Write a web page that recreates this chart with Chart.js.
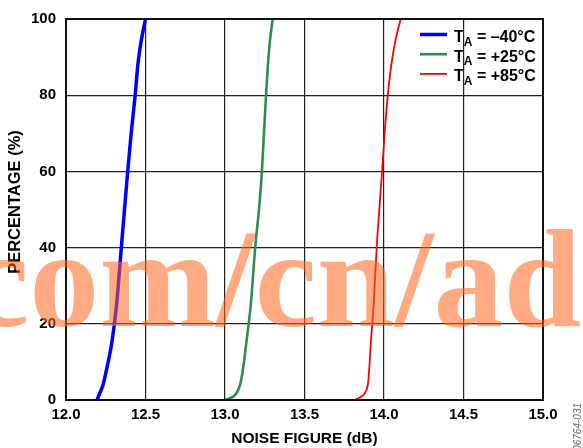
<!DOCTYPE html>
<html>
<head>
<meta charset="utf-8">
<script src="https://cdn.jsdelivr.net/npm/chart.js@4.4.1/dist/chart.umd.min.js"></script>
<style>
  html, body { margin: 0; padding: 0; background: #fff; }
  canvas { display: block; }
</style>
</head>
<body>
<canvas id="nfChart" width="583" height="448"></canvas>
<script>
// cumulative distribution of noise figure, one curve per temperature
const PCT     = [0, 1, 2, 4, 8, 15, 25, 40, 52, 60, 70, 80, 88, 94, 100];
const NF_M40  = [12.196, 12.205, 12.215, 12.233, 12.255, 12.288, 12.318, 12.348, 12.372, 12.388, 12.41, 12.435, 12.452, 12.472, 12.50];
const NF_P25  = [13.0, 13.055, 13.075, 13.095, 13.113, 13.134, 13.162, 13.19, 13.218, 13.232, 13.245, 13.258, 13.27, 13.282, 13.30];
const NF_P85  = [13.818, 13.86, 13.882, 13.898, 13.907, 13.917, 13.935, 13.954, 13.974, 13.988, 14.004, 14.024, 14.046, 14.07, 14.105];

const TEMPS   = ["–40°C", "+25°C", "+85°C"];
const COLORS  = ["#0000ff", "#2e8b57", "#ff0000"];
const WIDTHS  = [3.5, 2.6, 1.8];

const X_MIN = 12.0, X_MAX = 15.0, X_STEP = 0.5;
const Y_MIN = 0, Y_MAX = 100, Y_STEP = 20;

const SANS = '"Liberation Sans", Arial, sans-serif';

const toPoints = (xs) => xs.map((x, i) => ({ x, y: PCT[i] }));

// frame around plot area
const framePlugin = {
    id: "frame",
    afterDatasetsDraw(chart) {
        const { ctx, chartArea: a } = chart;
        ctx.save();
        ctx.strokeStyle = "#111";
        ctx.lineWidth = 2;
        ctx.strokeRect(a.left, a.top, a.right - a.left, a.bottom - a.top);
        ctx.restore();
    }
};

// legend with subscript "A"
const legendPlugin = {
    id: "tempLegend",
    afterDatasetsDraw(chart) {
        const ctx = chart.ctx;
        ctx.save();
        TEMPS.forEach((t, i) => {
            const y = 34.5 + i * 19.7;
            ctx.strokeStyle = COLORS[i];
            ctx.lineWidth = WIDTHS[i];
            ctx.beginPath();
            ctx.moveTo(420, y);
            ctx.lineTo(447, y);
            ctx.stroke();

            ctx.fillStyle = "#000";
            ctx.textBaseline = "alphabetic";
            ctx.textAlign = "left";
            let x = 454;
            ctx.font = "bold 16px " + SANS;
            ctx.fillText("T", x, y + 7.4);
            x += ctx.measureText("T").width;
            ctx.font = "bold 12px " + SANS;
            ctx.fillText("A", x, y + 11);
            x += ctx.measureText("A").width;
            ctx.font = "bold 16px " + SANS;
            ctx.fillText(" = " + t, x, y + 7.4);
        });
        ctx.restore();
    }
};

// y title, overlay text and figure number
const overlayPlugin = {
    id: "overlay",
    afterDraw(chart) {
        const ctx = chart.ctx;
        ctx.save();
        ctx.translate(15, 202);
        ctx.rotate(-Math.PI / 2);
        ctx.font = "bold 16.5px " + SANS;
        ctx.fillStyle = "#000";
        ctx.textAlign = "center";
        ctx.textBaseline = "middle";
        ctx.fillText("PERCENTAGE (%)", 0, 0);
        ctx.restore();

        ctx.save();
        ctx.font = 'bold 140px "Liberation Serif", "Times New Roman", serif';
        ctx.fillStyle = "rgba(255, 100, 30, 0.55)";
        ctx.textAlign = "left";
        ctx.textBaseline = "alphabetic";
        ctx.fillText("com/cn/ad", -33, 326);
        ctx.restore();

        ctx.save();
        ctx.translate(578, 403);
        ctx.rotate(-Math.PI / 2);
        ctx.font = "italic 10px " + SANS;
        ctx.fillStyle = "#666";
        ctx.textAlign = "right";
        ctx.textBaseline = "middle";
        ctx.fillText("06764-031", 0, 0);
        ctx.restore();
    }
};

const lineSet = (xs, i) => ({
    label: "TA = " + TEMPS[i],
    data: toPoints(xs),
    showLine: true,
    borderColor: COLORS[i],
    borderWidth: WIDTHS[i],
    pointRadius: 0,
    fill: false,
    cubicInterpolationMode: "monotone"
});

new Chart(document.getElementById("nfChart"), {
    type: "scatter",
    data: {
        datasets: [lineSet(NF_M40, 0), lineSet(NF_P25, 1), lineSet(NF_P85, 2)]
    },
    options: {
        responsive: false,
        animation: false,
        layout: { padding: { top: 18, right: 40, left: 0, bottom: 0 } },
        plugins: { legend: { display: false }, tooltip: { enabled: false } },
        scales: {
            x: {
                type: "linear",
                min: X_MIN, max: X_MAX,
                ticks: {
                    stepSize: X_STEP,
                    color: "#000",
                    padding: 6,
                    font: { family: SANS, size: 15, weight: "bold" },
                    callback: (v) => v.toFixed(1)
                },
                grid: { color: "#222", lineWidth: 1.2, drawTicks: false },
                border: { display: false },
                title: {
                    display: true,
                    text: "NOISE FIGURE (dB)",
                    color: "#000",
                    font: { family: SANS, size: 15.5, weight: "bold" },
                    padding: { top: 0, bottom: 0 }
                },
                afterFit: (s) => { s.height = 48; }
            },
            y: {
                min: Y_MIN, max: Y_MAX,
                ticks: {
                    stepSize: Y_STEP,
                    color: "#000",
                    padding: 10,
                    font: { family: SANS, size: 15, weight: "bold" }
                },
                grid: { color: "#222", lineWidth: 1.2, drawTicks: false },
                border: { display: false },
                afterFit: (s) => { s.width = 66; }
            }
        }
    },
    plugins: [framePlugin, legendPlugin, overlayPlugin]
});
</script>
</body>
</html>
